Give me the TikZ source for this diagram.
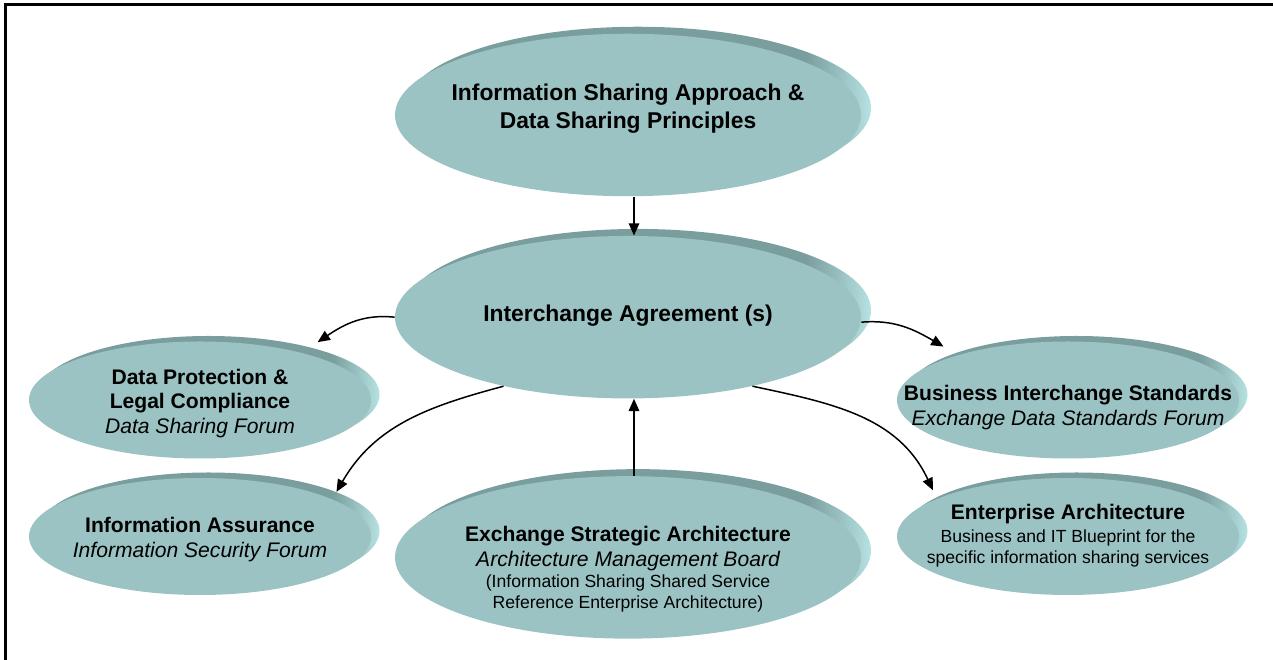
\documentclass[tikz,border=0pt]{standalone}
\usepackage{fontspec}
\setmainfont{Liberation Sans}
\usetikzlibrary{positioning,arrows.meta,shapes.geometric}
\definecolor{teal300}{HTML}{9CC3C3}
\definecolor{teal500}{HTML}{7A9D9D}
\definecolor{teal100}{HTML}{B6E2E2}
% rim of the discs: dark almost all the way, light at the right end
\pgfdeclarehorizontalshading{rimshade}{100bp}{color(0bp)=(teal500);
  color(25bp)=(teal500); color(68bp)=(teal500); color(75bp)=(teal100);
  color(100bp)=(teal100)}
\newcommand{\hA}{\fontsize{13}{16}\selectfont\bfseries}
\newcommand{\hB}{\fontsize{12}{14}\selectfont\bfseries}
\newcommand{\sB}{\fontsize{12}{14}\selectfont\itshape}
\newcommand{\pC}{\fontsize{10}{12}\selectfont}
\tikzset{
  back/.style   ={preaction={shading=rimshade,
                   transform canvas={shift={(#1)}}}},
  disc/.style   ={ellipse, fill=teal300, inner sep=0pt},
  bigdisc/.style={disc, minimum width=9.32cm, minimum height=3.25cm,
                  back={0.2,0.14}},
  sidedisc/.style={disc, minimum width=6.84cm, minimum height=2.34cm,
                  back={0.17,0.11}},
  txt/.style    ={align=center, inner sep=0pt,
                  font=\fontsize{12}{14}\selectfont},
  txtA/.style   ={txt, font=\fontsize{13}{16}\selectfont},
  txtC/.style   ={txt, font=\fontsize{12}{12}\selectfont},
  arr/.style    ={-{Triangle[length=7pt,width=6pt]}, line width=0.85pt}
}

\begin{document}
\begin{tikzpicture}
\useasboundingbox (0,0) rectangle (25.46,13.2);
\draw[line width=1.2pt] (0.11,0) -- (0.11,13.11) -- (25.46,13.11);

% centre column
\node[bigdisc] (approach) at (12.56,10.9) {};
\node[bigdisc, below=0.78cm of approach] (agreement) {};
\node[bigdisc, below=1.54cm of agreement] (strategic) {};
% side discs
\node[sidedisc] (protection) at (4.0,5.2) {};
\node[sidedisc] (assurance)  at (4.0,2.47) {};
\node[sidedisc] (business)   at (21.36,5.2) {};
\node[sidedisc] (enterprise) at (21.36,2.47) {};

\node[txtA] (approach-t) at ([yshift=0.12cm]approach.center)
  {\hA Information Sharing Approach \&\\ \hA Data Sharing Principles};
\node[txtA] (agreement-t) at ([yshift=0.04cm]agreement.center)
  {\hA Interchange Agreement (s)};
\node[txtC] (strategic-t) at ([yshift=-0.24cm]strategic.center)
  {\hB Exchange Strategic Architecture\\[2.2pt]
   \sB Architecture Management Board\\
   \pC (Information Sharing Shared Service\\
   \pC Reference Enterprise Architecture)};
\node[txt] (protection-t) at ([yshift=-0.07cm]protection.center)
  {\hB Data Protection \&\\ \hB Legal Compliance\\
   \sB Data Sharing Forum};
\node[txt] (assurance-t) at ([yshift=-0.06cm]assurance.center)
  {\hB Information Assurance\\
   \sB Information Security Forum};
\node[txt] (business-t) at ([yshift=-0.15cm]business.center)
  {\hB Business Interchange Standards\\
   \sB Exchange Data Standards Forum};
\node[txtC] (enterprise-t) at ([yshift=0.02cm]enterprise.center)
  {\hB Enterprise Architecture\\[1pt]
   \pC Business and IT Blueprint for the\\
   \pC specific information sharing services};

\draw[arr] ([xshift=0.12cm]approach.south) -- ([xshift=0.12cm]agreement.north);
\draw[arr] ([xshift=0.12cm]strategic.north) -- ([xshift=0.12cm]agreement.south);
\draw[arr] (agreement.west) to[out=174,in=34] ([yshift=0.3cm]protection.20);
\draw[arr] (agreement.209) to[out=195,in=60]
  ([xshift=0.17cm,yshift=0.11cm]assurance.17);
\draw[arr] ([yshift=-0.1cm]agreement.east) to[out=5,in=150]
  ([yshift=0.26cm]business.162);
\draw[arr] (agreement.331) to[out=-12,in=115] ([yshift=0.2cm]enterprise.165);
\end{tikzpicture}
\end{document}
